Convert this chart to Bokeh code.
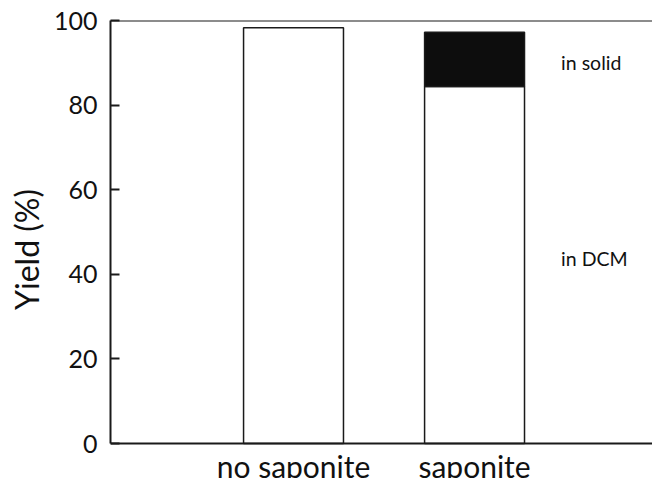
from bokeh.plotting import figure
from bokeh.models import Range1d, FixedTicker, Span, ColumnDataSource
from bokeh.core.properties import value
from bokeh.embed import file_html
from bokeh.resources import INLINE

# ---- data ----
categories = ["no saponite", "saponite"]
yield_in_dcm = [98.3, 84.4]
yield_in_solid = [0.0, 12.8]
y_ticks = [0, 20, 40, 60, 80, 100]
note_texts = ["in solid", "in DCM"]
note_y = [90.0, 43.7]

FONT = "Lato"

positions = list(range(len(categories)))
tops = [d + s for d, s in zip(yield_in_dcm, yield_in_solid)]

# the frame continues below y=0 so the category names can sit under the axis
p = figure(width=652, height=478, output_backend="svg", toolbar_location=None,
           x_range=Range1d(-1.011, 1.983), y_range=Range1d(-8.27, 100),
           min_border_left=110, min_border_right=0, min_border_top=20,
           min_border_bottom=0)
p.outline_line_color = None
p.xgrid.visible = False
p.ygrid.visible = False
p.background_fill_color = "white"
p.border_fill_color = "white"

bar_w = 0.552
src_dcm = ColumnDataSource(dict(x=positions, top=yield_in_dcm))
p.vbar(x="x", top="top", bottom=0, width=bar_w, source=src_dcm,
       fill_color="white", line_color="#1a1a1a", line_width=1.5)

solid_x = [x for x, s in zip(positions, yield_in_solid) if s > 0]
solid_b = [d for d, s in zip(yield_in_dcm, yield_in_solid) if s > 0]
solid_t = [t for t, s in zip(tops, yield_in_solid) if s > 0]
src_solid = ColumnDataSource(dict(x=solid_x, bottom=solid_b, top=solid_t))
p.vbar(x="x", top="top", bottom="bottom", width=bar_w, source=src_solid,
       fill_color="#0d0d0d", line_color="#1a1a1a", line_width=1.5)

# annotations to the right of the saponite bar
note_x = [positions[-1] + 0.478] * len(note_texts)
p.text(x=note_x, y=note_y, text=note_texts, text_font=value(FONT),
       text_font_size="19.5px", text_color="#111111",
       text_align="left", text_baseline="middle")

# category names under the axis
p.text(x=positions, y=[-5.4] * len(positions), text=categories,
       text_font=value(FONT), text_font_size="30px", text_color="#111111",
       text_align="center", text_baseline="middle")

# frame lines: top and bottom (x axis line at y = 0)
p.add_layout(Span(location=100, dimension="width", line_color="#1a1a1a", line_width=2))
p.add_layout(Span(location=0, dimension="width", line_color="#1a1a1a", line_width=2))

# y axis
ya = p.yaxis[0]
ya.bounds = (0, 100)
ya.ticker = FixedTicker(ticks=y_ticks)
ya.axis_label = "Yield (%)"
ya.axis_label_text_font = FONT
ya.axis_label_text_font_size = "32px"
ya.axis_label_text_font_style = "normal"
ya.axis_label_text_color = "#111111"
ya.axis_label_standoff = 5
ya.major_label_text_font = FONT
ya.major_label_text_font_size = "25px"
ya.major_label_text_color = "#111111"
ya.major_label_standoff = 13
ya.major_tick_in = 9
ya.major_tick_out = 0
ya.minor_tick_line_color = None
ya.axis_line_width = 2
ya.axis_line_color = "#1a1a1a"
ya.major_tick_line_width = 2
ya.major_tick_line_color = "#1a1a1a"

p.xaxis.visible = False

open("out.html", "w").write(file_html(p, INLINE))
